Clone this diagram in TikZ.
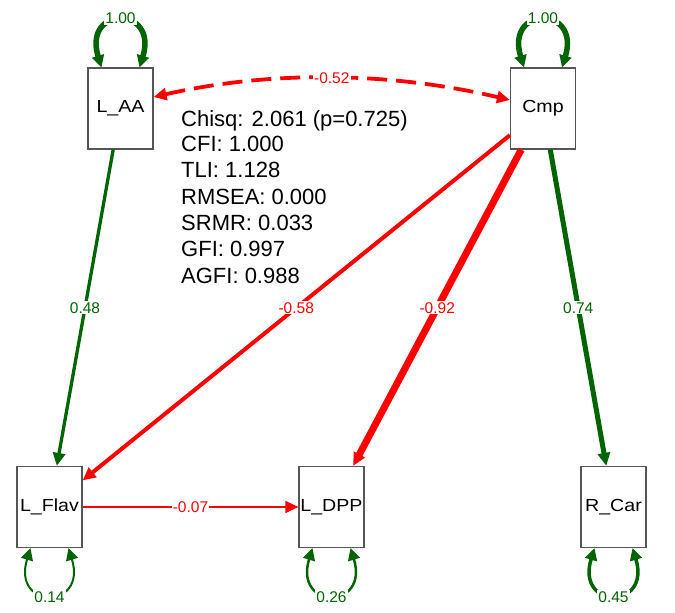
\documentclass[tikz,border=0pt]{standalone}
\usepackage{fontspec}
\setmainfont{Liberation Sans}
\usetikzlibrary{arrows.meta,calc}
\definecolor{sgreen}{RGB}{0,100,0}
\definecolor{sred}{RGB}{255,0,0}
\definecolor{boxgray}{RGB}{85,85,85}
\newcommand\boxtxt[1]{\scalebox{1.12}[1]{#1}}
% loop above a node: node, line width, label
\newcommand\looptop[3]{%
  \draw[bitipl, sgreen, line width=#2]
    ($(#1.north)+(-19,0)$) .. controls ($(#1.north)+(-38,-62)$) and ($(#1.north)+(38,-62)$) ..
    ($(#1.north)+(19,0)$) node[lbl, text=sgreen, pos=0.5, yshift=2.5pt] {#3};}
% loop below a node
\newcommand\loopbot[3]{%
  \draw[bitipl, sgreen, line width=#2]
    ($(#1.south)+(-19,0)$) .. controls ($(#1.south)+(-38,62)$) and ($(#1.south)+(38,62)$) ..
    ($(#1.south)+(19,0)$) node[lbl, text=sgreen, pos=0.5, yshift=-2.5pt] {#3};}
\begin{document}
\begin{tikzpicture}[x=1pt,y=-1pt,
  var/.style={draw=boxgray, line width=1.2pt, fill=white, minimum width=65pt,
    minimum height=81pt, inner sep=0pt, font=\fontsize{17.5}{18}\selectfont},
  lbl/.style={fill=white, inner sep=1.2pt, font=\fontsize{15.5}{16}\selectfont},
  tip/.style={-{Triangle[length=13pt,width=12pt]}},
  bitip/.style={{Triangle[length=13pt,width=12pt]}-{Triangle[length=13pt,width=12pt]}},
  bitipl/.style={{Triangle[length=12pt,width=12pt]}-{Triangle[length=12pt,width=12pt]}},
  stat/.style={anchor=base west, inner sep=0pt, font=\fontsize{22}{26}\selectfont}]
\useasboundingbox[fill=white] (0,0) rectangle (675,613);
% variables
\node[var] (laa)   at (120.5,108.5) {\boxtxt{L\_AA}};
\node[var] (cmp)   at (543,108.5)   {\boxtxt{Cmp}};
\node[var] (lflav) at (49.5,507)    {\boxtxt{L\_Flav}};
\node[var] (ldpp)  at (331.5,507)   {\boxtxt{L\_DPP}};
\node[var] (rcar)  at (613.5,507)   {\boxtxt{R\_Car}};
% fit statistics
\node[stat] (s1) at (181,126.7) {Chisq: 2.061 (p=0.725)};
\node[stat] (s2) at (181,151.7) {CFI: 1.000};
\node[stat] (s3) at (181,177.7) {TLI: 1.128};
\node[stat] (s4) at (181,204)   {RMSEA: 0.000};
\node[stat] (s5) at (181,230)   {SRMR: 0.033};
\node[stat] (s6) at (181,256)   {GFI: 0.997};
\node[stat] (s7) at (181,283.3) {AGFI: 0.988};
% regressions
\draw[tip, sgreen, line width=3.3pt] (laa) -- node[lbl, text=sgreen] {0.48} (lflav);
\draw[tip, sred, line width=4pt] (cmp) -- node[lbl, text=sred] {-0.58} (lflav);
\draw[tip, sred, line width=7pt] (cmp) -- node[lbl, text=sred] {-0.92} (ldpp);
\draw[tip, sgreen, line width=5pt] (cmp) -- node[lbl, text=sgreen] {0.74} (rcar);
\draw[tip, sred, line width=1.5pt] (lflav) -- node[lbl, text=sred] {-0.07} (ldpp);
% covariance
\coordinate (dA) at ([yshift=11.5pt]laa.east);
\coordinate (dB) at ([yshift=8.5pt]cmp.west);
\draw[bitip, sred, line width=3.8pt, dash pattern=on 20pt off 9pt]
  (dA) .. controls ($(dA)+(119,-27)$) and ($(dB)+(-119,-28)$) .. (dB)
  node[lbl, text=sred, pos=0.5] {-0.52};
% variances
\looptop{laa}{5.5pt}{1.00}
\looptop{cmp}{5.5pt}{1.00}
\loopbot{lflav}{2pt}{0.14}
\loopbot{ldpp}{2.5pt}{0.26}
\loopbot{rcar}{3.5pt}{0.45}
\end{tikzpicture}
\end{document}
